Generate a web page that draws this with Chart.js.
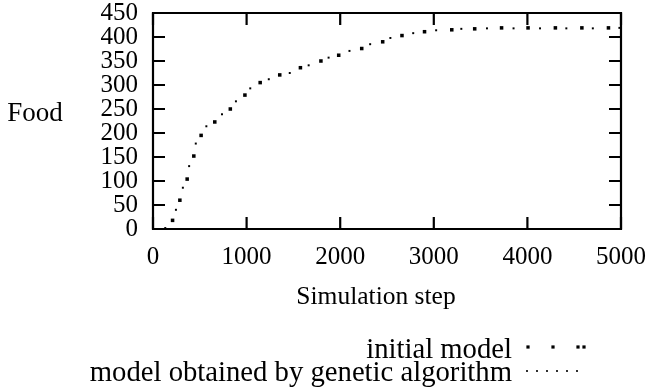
<!DOCTYPE html>
<html>
<head>
<meta charset="utf-8">
<script src="https://cdn.jsdelivr.net/npm/chart.js@4/dist/chart.umd.min.js"></script>
<style>
  html, body { margin: 0; padding: 0; background: #fff; }
  #wrap { width: 647px; height: 388px; }
</style>
</head>
<body>
<div id="wrap"><canvas id="chart" width="647" height="388"></canvas></div>
<script>
// Marks: [simulation step, food]
const initialSteps = [209, 287, 365, 436, 514, 660, 826, 982, 1145, 1354, 1575, 1794, 1984, 2230, 2454, 2660, 2901, 3192, 3437, 3724, 4007, 4299, 4582, 4866];
const initialFood  = [18, 60, 104, 152, 195, 223, 250, 279, 305, 321, 336, 350, 362, 376, 390, 403, 411, 415, 417, 419, 419, 419, 419, 419];

const geneticSteps = [131, 245, 319, 386, 457, 570, 737, 886, 1039, 1237, 1461, 1663, 1876, 2099, 2320, 2536, 2780, 3025, 3294, 3568, 3852, 4135, 4416, 4699, 4983];
const geneticFood  = [2, 40, 86, 131, 178, 214, 239, 266, 293, 312, 325, 341, 357, 371, 385, 398, 408, 414, 417, 418, 418, 418, 418, 418, 419];

const seriesNames = ['initial model', 'model obtained by genetic algorithm'];
const xTicks = [0, 1000, 2000, 3000, 4000, 5000];
const yTicks = [0, 50, 100, 150, 200, 250, 300, 350, 400, 450];

const FONT = 'Liberation Serif, Times New Roman, serif';

const toPoints = (xs, ys) => xs.map((x, i) => ({ x: x, y: ys[i] }));

// frame, inward ticks on all four sides, axis titles and the key
const framePlugin = {
    id: 'frame',
    afterDraw(chart) {
        const ctx = chart.ctx;
        const a = chart.chartArea;
        const xs = chart.scales.x, ys = chart.scales.y;
        const tl = 12;
        ctx.save();
        ctx.strokeStyle = '#000';
        ctx.lineWidth = 2.2;
        ctx.beginPath();
        ctx.rect(a.left, a.top, a.right - a.left, a.bottom - a.top);
        ctx.stroke();
        ctx.beginPath();
        xTicks.forEach(v => {
            const px = xs.getPixelForValue(v);
            ctx.moveTo(px, a.bottom); ctx.lineTo(px, a.bottom - tl);
            ctx.moveTo(px, a.top); ctx.lineTo(px, a.top + tl);
        });
        yTicks.forEach(v => {
            const py = ys.getPixelForValue(v);
            ctx.moveTo(a.left, py); ctx.lineTo(a.left + tl, py);
            ctx.moveTo(a.right, py); ctx.lineTo(a.right - tl, py);
        });
        ctx.stroke();

        ctx.fillStyle = '#000';
        ctx.textBaseline = 'middle';
        ctx.textAlign = 'center';
        ctx.font = '27px ' + FONT;
        ctx.fillText('Food', 35, 114);
        ctx.font = '25.5px ' + FONT;
        ctx.fillText('Simulation step', 376, 297);

        // key
        ctx.font = '28.7px ' + FONT;
        ctx.textAlign = 'right';
        ctx.fillText(seriesNames[0], 512, 350);
        ctx.fillText(seriesNames[1], 512, 373);
        [528, 553, 578, 584].forEach(x => ctx.fillRect(x - 1.6, 347 - 1.6, 3.2, 3.2));
        for (let x = 527; x <= 578; x += 10) ctx.fillRect(x - 0.9, 371 - 0.9, 1.8, 1.8);
        ctx.restore();
    }
};

new Chart(document.getElementById('chart'), {
    type: 'scatter',
    data: {
        datasets: [
            {
                label: seriesNames[0],
                data: toPoints(initialSteps, initialFood),
                pointStyle: 'rect',
                pointRadius: 2.5,
                pointBorderWidth: 0,
                backgroundColor: '#000',
                borderColor: '#000'
            },
            {
                label: seriesNames[1],
                data: toPoints(geneticSteps, geneticFood),
                pointStyle: 'rect',
                pointRadius: 1.4,
                pointBorderWidth: 0,
                backgroundColor: '#000',
                borderColor: '#000'
            }
        ]
    },
    options: {
        responsive: false,
        animation: false,
        layout: { padding: { left: 0, right: 26, top: 13, bottom: 0 } },
        plugins: { legend: { display: false }, tooltip: { enabled: false } },
        scales: {
            x: {
                type: 'linear',
                min: 0, max: 5000,
                afterBuildTicks: s => { s.ticks = xTicks.map(v => ({ value: v })); },
                afterFit: s => { s.height = 159; s.paddingLeft = 0; s.paddingRight = 0; },
                grid: { display: true, drawOnChartArea: false, drawTicks: false },
                border: { display: false },
                ticks: {
                    color: '#000', padding: 13, autoSkip: false, maxRotation: 0,
                    font: { family: FONT, size: 25 },
                    callback: v => String(v)
                }
            },
            y: {
                type: 'linear',
                min: 0, max: 450,
                afterBuildTicks: s => { s.ticks = yTicks.map(v => ({ value: v })); },
                afterFit: s => { s.width = 153; s.paddingTop = 0; s.paddingBottom = 0; },
                grid: { display: true, drawOnChartArea: false, drawTicks: false },
                border: { display: false },
                ticks: {
                    color: '#000', padding: 15, autoSkip: false,
                    font: { family: FONT, size: 25 },
                    callback: v => String(v)
                }
            }
        }
    },
    plugins: [framePlugin]
});
</script>
</body>
</html>
